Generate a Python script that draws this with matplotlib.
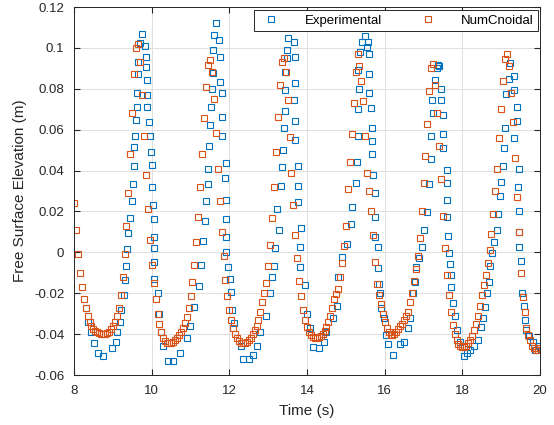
import matplotlib.pyplot as plt
import numpy as np
from matplotlib.ticker import FuncFormatter

plt.rcParams['font.family'] = ['Liberation Sans', 'DejaVu Sans']
plt.rcParams['axes.unicode_minus'] = False

# Experimental (wave gauge) samples
exp_t = [8.31, 8.37, 8.43, 8.51, 8.63, 8.75, 8.97, 9.07, 9.11, 9.18,
         9.22, 9.28, 9.31, 9.34, 9.37, 9.40, 9.43, 9.50, 9.52, 9.54,
         9.55, 9.58, 9.60, 9.63, 9.63, 9.65, 9.64, 9.71, 9.75, 9.83,
         9.86, 9.86, 9.89, 9.89, 9.89, 9.92, 9.95, 9.97, 10.00, 10.01,
         10.03, 10.06, 10.06, 10.06, 10.06, 10.07, 10.16, 10.20, 10.24, 10.29,
         10.43, 10.54, 10.74, 10.90, 10.98, 11.09, 11.22, 11.26, 11.31, 11.38,
         11.41, 11.46, 11.46, 11.48, 11.50, 11.54, 11.56, 11.58, 11.58, 11.61,
         11.65, 11.74, 11.76, 11.76, 11.80, 11.82, 11.82, 11.91, 11.89, 11.91,
         11.92, 11.92, 11.92, 11.97, 12.01, 12.04, 12.08, 12.12, 12.29, 12.35,
         12.51, 12.61, 12.71, 12.80, 12.95, 13.04, 13.10, 13.16, 13.18, 13.27,
         13.23, 13.33, 13.36, 13.38, 13.40, 13.44, 13.44, 13.44, 13.48, 13.48,
         13.50, 13.66, 13.70, 13.70, 13.66, 13.70, 13.70, 13.78, 13.76, 13.78,
         13.84, 13.81, 13.83, 13.94, 14.00, 14.07, 14.16, 14.31, 14.44, 14.50,
         14.68, 14.76, 14.80, 14.90, 15.04, 15.13, 15.15, 15.25, 15.28, 15.30,
         15.32, 15.34, 15.32, 15.36, 15.42, 15.48, 15.54, 15.57, 15.59, 15.59,
         15.59, 15.65, 15.68, 15.68, 15.68, 15.71, 15.74, 15.74, 15.76, 15.82,
         15.82, 15.85, 15.88, 15.91, 15.97, 16.04, 16.08, 16.21, 16.40, 16.49,
         16.59, 16.64, 16.72, 16.77, 16.81, 16.88, 16.95, 17.02, 17.10, 17.15,
         17.19, 17.20, 17.25, 17.23, 17.29, 17.34, 17.36, 17.40, 17.46, 17.46,
         17.49, 17.49, 17.51, 17.60, 17.60, 17.60, 17.61, 17.64, 17.66, 17.68,
         17.70, 17.72, 17.77, 17.80, 17.87, 17.95, 18.04, 18.05, 18.12, 18.20,
         18.31, 18.39, 18.48, 18.54, 18.59, 18.63, 18.68, 18.71, 18.76, 18.82,
         18.88, 18.92, 18.97, 19.00, 19.04, 19.07, 19.11, 19.12, 19.19, 19.23,
         19.32, 19.34, 19.41, 19.41, 19.32, 19.45, 19.43, 19.45, 19.47, 19.45,
         19.52, 19.53, 19.58, 19.60, 19.65, 19.72, 19.81, 19.88, 19.98]
exp_eta = [-0.027, -0.034, -0.039, -0.0445, -0.049, -0.0505, -0.047, -0.0437, -0.0388, -0.034,
           -0.028, -0.021, -0.0136, -0.0067, 0.0015, 0.0096, 0.017, 0.025, 0.0334, 0.042,
           0.0517, 0.057, 0.0647, 0.0712, 0.0778, 0.087, 0.0933, 0.1025, 0.107, 0.101,
           0.0955, 0.0908, 0.0843, 0.077, 0.0712, 0.064, 0.057, 0.0492, 0.0427, 0.032,
           0.023, 0.0164, 0.0077, 0.0021, -0.0045, -0.013, -0.020, -0.030, -0.039, -0.046,
           -0.053, -0.053, -0.049, -0.042, -0.036, -0.0266, -0.0165, -0.006, 0.0057, 0.0155,
           0.025, 0.0333, 0.0406, 0.0522, 0.0623, 0.0712, 0.0797, 0.0879, 0.099, 0.1063,
           0.112, 0.1039, 0.0957, 0.0835, 0.0778, 0.066, 0.057, 0.0438, 0.0365, 0.0256,
           0.0163, 0.0073, 0.000, -0.007, -0.0128, -0.0193, -0.028, -0.0344, -0.046, -0.052,
           -0.052, -0.050, -0.046, -0.039, -0.031, -0.020, -0.012, -0.0065, 0.0019, 0.011,
           0.021, 0.0324, 0.0419, 0.050, 0.0606, 0.069, 0.0795, 0.0884, 0.095, 0.099,
           0.105, 0.103, 0.0955, 0.083, 0.0745, 0.0644, 0.055, 0.0424, 0.0324, 0.0245,
           0.012, 0.0027, -0.007, -0.016, -0.030, -0.037, -0.0465, -0.047, -0.044, -0.039,
           -0.032, -0.026, -0.012, -0.0023, 0.004, 0.014, 0.022, 0.034, 0.044, 0.057,
           0.070, 0.080, 0.089, 0.098, 0.103, 0.106, 0.1005, 0.103, 0.097, 0.087,
           0.078, 0.0705, 0.061, 0.0543, 0.048, 0.038, 0.029, 0.0175, 0.0073, 0.0027,
           -0.0078, -0.0155, -0.020, -0.027, -0.032, -0.0405, -0.045, -0.050, -0.045, -0.0437,
           -0.037, -0.032, -0.020, -0.0144, -0.007, -0.003, 0.0027, 0.011, 0.0195, 0.0333,
           0.0455, 0.057, 0.068, 0.0745, 0.0843, 0.090, 0.0915, 0.091, 0.080, 0.0745,
           0.067, 0.058, 0.051, 0.0404, 0.034, 0.0256, 0.0175, 0.008, -0.0005, -0.0055,
           -0.011, -0.017, -0.025, -0.031, -0.038, -0.044, -0.046, -0.0505, -0.049, -0.048,
           -0.046, -0.043, -0.0365, -0.032, -0.0265, -0.020, -0.0145, -0.0065, -0.0005, 0.005,
           0.011, 0.019, 0.0275, 0.0346, 0.0422, 0.051, 0.0607, 0.0775, 0.0846, 0.0925,
           0.0862, 0.0794, 0.0709, 0.0644, 0.0558, 0.0406, 0.0321, 0.020, 0.010, 0.0027,
           -0.004, -0.020, -0.026, -0.033, -0.038, -0.041, -0.044, -0.048, -0.046]

# NumCnoidal model output, sampled every 0.05 s from 8 s to 20 s
num_t = np.linspace(8, 20, 241)
num_eta = [
    0.024, 0.011, -0.001, -0.010, -0.017, -0.023, -0.027, -0.031, -0.034, -0.036,
    -0.0375, -0.0385, -0.039, -0.0395, -0.040, -0.040, -0.040, -0.0395, -0.039, -0.0375,
    -0.036, -0.034, -0.031, -0.027, -0.021, -0.012, -0.001, 0.013, 0.029, 0.048,
    0.068, 0.087, 0.100, 0.102, 0.093, 0.077, 0.057, 0.038, 0.021, 0.006,
    -0.006, -0.015, -0.023, -0.030, -0.035, -0.039, -0.042, -0.0435, -0.0445, -0.0445,
    -0.0445, -0.044, -0.043, -0.042, -0.0405, -0.039, -0.037, -0.0345, -0.0315, -0.027,
    -0.0215, -0.0145, -0.006, 0.005, 0.0175, 0.032, 0.048, 0.0655, 0.081, 0.0915,
    0.094, 0.088, 0.075, 0.0585, 0.041, 0.025, 0.010, -0.002, -0.0135, -0.0215,
    -0.028, -0.033, -0.037, -0.040, -0.042, -0.0435, -0.0445, -0.0445, -0.0445, -0.044,
    -0.043, -0.042, -0.040, -0.038, -0.036, -0.033, -0.029, -0.0245, -0.020, -0.015,
    -0.0067, 0.0035, 0.0166, 0.032, 0.049, 0.066, 0.082, 0.093, 0.095, 0.088,
    0.0745, 0.0565, 0.039, 0.023, 0.0085, -0.003, -0.014, -0.0215, -0.028, -0.033,
    -0.0365, -0.039, -0.0405, -0.0415, -0.042, -0.042, -0.0415, -0.041, -0.040, -0.0385,
    -0.0365, -0.034, -0.031, -0.027, -0.023, -0.0205, -0.018, -0.012, -0.005, 0.003,
    0.013, 0.031, 0.044, 0.058, 0.073, 0.088, 0.097, 0.091, 0.084, 0.074,
    0.057, 0.039, 0.030, 0.020, 0.0085, -0.0045, -0.0155, -0.021, -0.0255, -0.030,
    -0.034, -0.037, -0.039, -0.0405, -0.0405, -0.040, -0.039, -0.0375, -0.036, -0.035,
    -0.033, -0.031, -0.029, -0.0245, -0.020, -0.014, -0.008, -0.002, 0.007, 0.020,
    0.034, 0.047, 0.063, 0.079, 0.090, 0.092, 0.082, 0.068, 0.052, 0.036,
    0.018, 0.002, -0.011, -0.021, -0.029, -0.0355, -0.040, -0.043, -0.045, -0.046,
    -0.0465, -0.0465, -0.046, -0.0445, -0.043, -0.041, -0.038, -0.035, -0.031, -0.026,
    -0.021, -0.016, -0.011, -0.005, 0.001, 0.009, 0.019, 0.030, 0.041, 0.056,
    0.070, 0.084, 0.0945, 0.097, 0.091, 0.078, 0.064, 0.046, 0.027, 0.010,
    -0.010, -0.022, -0.029, -0.037, -0.0405, -0.043, -0.046, -0.047, -0.048, -0.048,
    -0.047]

blue = '#0072BD'
orange = '#D95319'

fig = plt.figure(figsize=(5.54, 4.25), dpi=100)
ax = fig.add_axes([0.1336, 0.1176, 0.8412, 0.8659])

ax.plot(exp_t, exp_eta, 's', ms=4, mfc='none', mec=blue, mew=0.8, label='Experimental')
ax.plot(num_t, num_eta, 's', ms=4, mfc='none', mec=orange, mew=0.8, label='NumCnoidal')

ax.set_xlim(8, 20)
ax.set_ylim(-0.06, 0.12)
ax.set_xticks(np.arange(8, 21, 2))
ax.set_yticks(np.arange(-0.06, 0.121, 0.02))
ax.yaxis.set_major_formatter(FuncFormatter(lambda v, p: '%g' % round(v, 3)))
ax.grid(True, color='#dedede', lw=0.7)
ax.set_axisbelow(True)
ax.tick_params(direction='in', top=True, right=True, length=4, labelsize=9.5,
               colors='#262626')
ax.tick_params(axis='x', pad=7)
ax.tick_params(axis='y', pad=7)
for s in ax.spines.values():
    s.set_color('#262626')
    s.set_linewidth(0.7)

ax.set_xlabel('Time (s)', fontsize=11, color='#262626', labelpad=5)
ax.set_ylabel('Free Surface Elevation (m)', fontsize=11, color='#262626', labelpad=5)

leg = ax.legend(loc='upper right', bbox_to_anchor=(0.996, 0.992), ncol=2,
                fontsize=9.5, fancybox=False, borderaxespad=0, columnspacing=2.5,
                handletextpad=1.5, framealpha=1, borderpad=0.35)
leg.get_frame().set_edgecolor('#262626')
leg.get_frame().set_linewidth(0.7)

plt.savefig('out.png', dpi=100)
